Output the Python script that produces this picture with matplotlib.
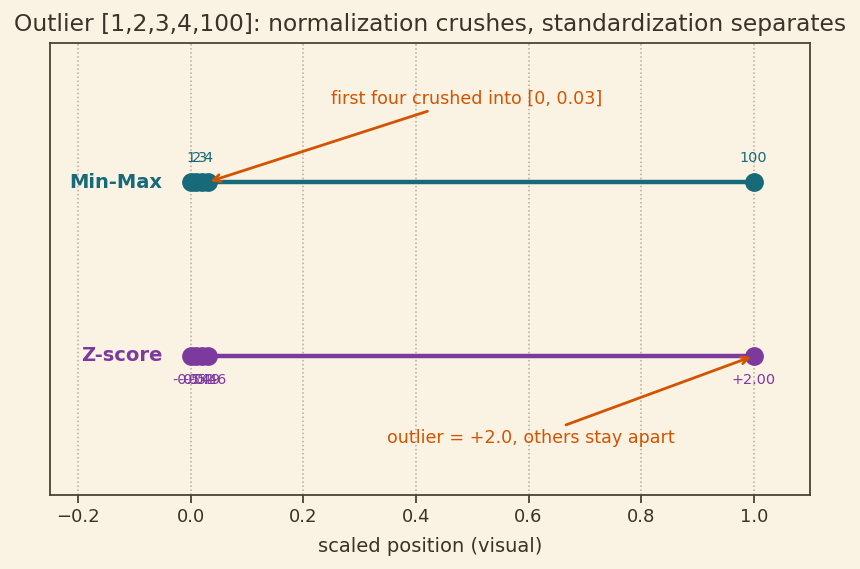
import numpy as np
import matplotlib
matplotlib.use("Agg")
import matplotlib.pyplot as plt

raw_values = [1, 2, 3, 4, 100]
minmax_labels = ["1", "2", "3", "4", "100"]
zscore_labels = ["-0.54", "-0.51", "-0.49", "-0.46", "+2.00"]
row_names = ["Min-Max", "Z-score"]
row_y = [1, 0]

BG = "#faf2e3"
TEAL = "#176a7a"
PURPLE = "#7d3a9e"
ORANGE = "#d35400"
DARK = "#3a3328"

vals = np.array(raw_values, dtype=float)
pos = (vals - vals.min()) / (vals.max() - vals.min())

fig = plt.figure(figsize=(8.6, 5.69), dpi=100, facecolor=BG)
ax = fig.add_axes([50/860, 1-495/569, 760/860, 452/569], facecolor=BG)

for name, y, color, labels, above in [
    (row_names[0], row_y[0], TEAL, minmax_labels, True),
    (row_names[1], row_y[1], PURPLE, zscore_labels, False),
]:
    ax.plot([pos.min(), pos.max()], [y, y], color=color, lw=3.2, zorder=2)
    ax.plot(pos, [y]*len(pos), 'o', color=color, ms=12.5, zorder=3)
    for p, lab in zip(pos, labels):
        ax.annotate(lab, (p, y), xytext=(0, 12 if above else -12),
                    textcoords="offset points", ha="center",
                    va="bottom" if above else "top", fontsize=10.4, color=color)
    ax.text(-0.05, y, name, ha="right", va="center", fontsize=14,
            fontweight="bold", color=color)

ax.annotate("first four crushed into [0, 0.03]", xy=(pos[3], 1), xytext=(0.49, 1.48),
            ha="center", va="center", fontsize=12.6, color=ORANGE,
            arrowprops=dict(arrowstyle="->", color=ORANGE, lw=2.0))
ax.annotate("outlier = +2.0, others stay apart", xy=(1.0, 0), xytext=(0.605, -0.47),
            ha="center", va="center", fontsize=12.6, color=ORANGE,
            arrowprops=dict(arrowstyle="->", color=ORANGE, lw=2.0))

ax.set_xlim(-0.25, 1.1)
ax.set_ylim(-0.8, 1.8)
ax.set_yticks([])
ax.set_xticks([-0.2, 0.0, 0.2, 0.4, 0.6, 0.8, 1.0])
ax.grid(axis="x", linestyle=":", color="#b5ab98", lw=1.1)
ax.set_axisbelow(True)
for s in ax.spines.values():
    s.set_color("#4a4234")
    s.set_linewidth(1.3)
ax.tick_params(axis="x", colors="#4a4234", labelcolor=DARK, labelsize=13, length=5.5, width=1.3)
ax.set_xlabel("scaled position (visual)", fontsize=14, color=DARK, labelpad=8)
ax.set_title("Outlier [1,2,3,4,100]: normalization crushes, standardization separates",
             fontsize=16.8, color=DARK, pad=9)

fig.savefig("out.png", dpi=100, facecolor=BG)
